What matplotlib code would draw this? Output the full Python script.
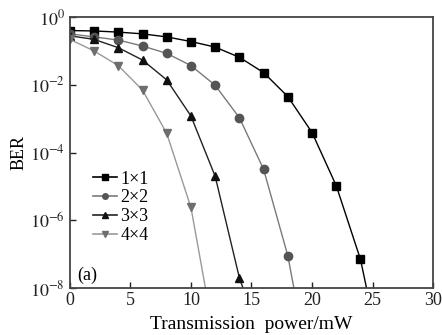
import matplotlib
matplotlib.use("Agg")
import matplotlib.pyplot as plt
import numpy as np

plt.rcParams['font.family'] = ['Liberation Serif', 'DejaVu Serif']
plt.rcParams['mathtext.fontset'] = 'stix'

labels = ["1×1", "2×2", "3×3", "4×4"]
x11 = [0, 2, 4, 6, 8, 10, 12, 14, 16, 18, 20, 22, 24, 24.5]
y11 = [0.40, 0.39, 0.36, 0.32, 0.26, 0.19, 0.13, 0.065, 0.023, 4.5e-3, 3.9e-4, 1.05e-5, 7e-8, 1e-8]
x22 = [0, 2, 4, 6, 8, 10, 12, 14, 16, 18, 18.5]
y22 = [0.32, 0.26, 0.21, 0.14, 0.085, 0.037, 9.7e-3, 1.07e-3, 3.2e-5, 9e-8, 1e-8]
x33 = [0, 2, 4, 6, 8, 10, 12, 14, 14.3]
y33 = [0.28, 0.22, 0.125, 0.054, 0.014, 1.2e-3, 2e-5, 2e-8, 1e-8]
x44 = [0, 2, 4, 6, 8, 10, 11.2]
y44 = [0.22, 0.10, 0.037, 7e-3, 3.7e-4, 2.4e-6, 1e-8]

fig = plt.figure(figsize=(4.42, 3.35), dpi=100)
ax = fig.add_axes([0.158, 0.140, 0.822, 0.809])

series = [
    (x11, y11, 's', '#000000', '#000000'),
    (x22, y22, 'o', '#555555', '#7a7a7a'),
    (x33, y33, '^', '#111111', '#222222'),
    (x44, y44, 'v', '#6e6e6e', '#999999'),
]
for (xs, ys, m, mc, lc), lab in zip(series, labels):
    xs = np.array(xs); ys = np.array(ys)
    ax.plot(xs, ys, '-', color=lc, lw=1.0, clip_on=True)
    ax.plot(xs[:-1], ys[:-1], linestyle='none', marker=m, color=mc, ms=6, clip_on=True)
    ax.plot([], [], '-', color=lc, marker=m, mfc=mc, mec=mc, ms=4, lw=1.2, label=lab)

ax.set_yscale('log')
ax.set_xlim(0, 30)
ax.set_ylim(1e-8, 1)
ax.set_xticks([0, 5, 10, 15, 20, 25, 30])
ax.set_yticks([1, 1e-2, 1e-4, 1e-6, 1e-8])
ax.set_yticklabels([r'$10^{0}$', r'$10^{-2}$', r'$10^{-4}$', r'$10^{-6}$', r'$10^{-8}$'])
ax.minorticks_off()
ax.tick_params(direction='in', length=4, width=1, labelsize=13, colors='#222222')
ax.tick_params(axis='x', pad=3)
for s in ax.spines.values():
    s.set_color('#444444')
    s.set_linewidth(1.3)
ax.set_xlabel('Transmission  power/mW', fontsize=14, labelpad=5)
ax.set_ylabel('BER', fontsize=13, labelpad=2)
ax.text(0.02, 0.015, '(a)', transform=ax.transAxes, fontsize=13, ha='left', va='bottom')
leg = ax.legend(loc='upper left', bbox_to_anchor=(0.045, 0.46), frameon=False, fontsize=13,
                handlelength=1.3, handletextpad=0.2, labelspacing=0.1, borderaxespad=0)
fig.savefig('out.png', dpi=100)
